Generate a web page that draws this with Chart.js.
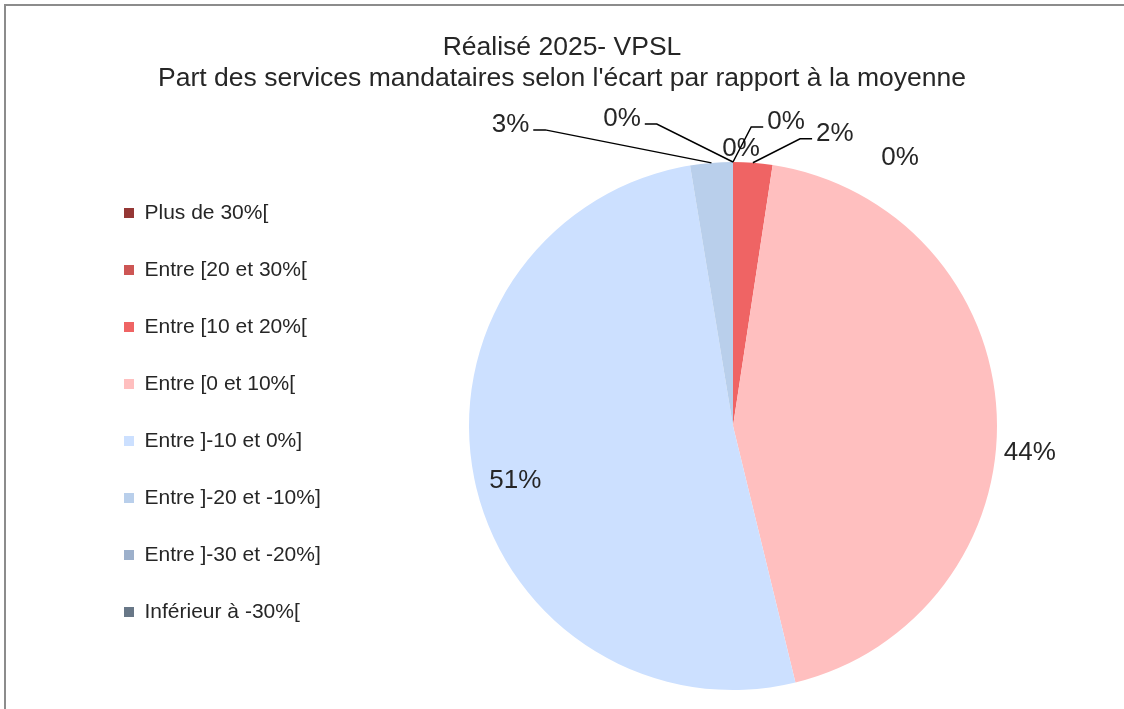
<!DOCTYPE html>
<html>
<head>
<meta charset="utf-8">
<script src="https://cdn.jsdelivr.net/npm/chart.js@4.4.1/dist/chart.umd.min.js"></script>
<style>
html, body { margin: 0; padding: 0; background: #fff; overflow: hidden; }
#wrap { position: relative; width: 1124px; height: 709px; }
#pieChart { position: absolute; left: 0; top: 0; }
#frame { position: absolute; left: 4px; top: 4px; right: 0; bottom: -10px;
         border-left: 2px solid #8c8c8c; border-top: 2px solid #8c8c8c; pointer-events: none; }
</style>
</head>
<body>
<div id="wrap">
  <canvas id="pieChart" width="1124" height="709"></canvas>
  <div id="frame"></div>
</div>
<script>
'use strict'

// data
const titleLines = ['Réalisé 2025- VPSL', "Part des services mandataires selon l'écart par rapport à la moyenne"];
const categories = ['Plus de 30%[', 'Entre [20 et 30%[', 'Entre [10 et 20%[', 'Entre [0 et 10%[',
    'Entre ]-10 et 0%]', 'Entre ]-20 et -10%]', 'Entre ]-30 et -20%]', 'Inférieur à -30%['];
const shares = [0, 0, 2.4, 43.8, 51.2, 2.6, 0, 0];
const sliceColors = ['#953735', '#cd5654', '#ef6464', '#ffbfbf', '#cce0ff', '#b9cfeb', '#9db0cb', '#687787'];

// where each percent label sits, relative to the outer point of its slice
const labelOffsets = [[8, -13], [53, -40], [82, -29], [33, 38], [41, 2], [-201, -38], [-111, -43], [167, -4]];
const withLeader = [false, true, true, false, false, true, true, false];

const FONT = '"Liberation Sans", Arial, sans-serif';
Chart.defaults.font.family = FONT;
Chart.defaults.color = '#262626';

// percent labels with leader lines, drawn after the slices
const pieLabels = {
    id: 'pieLabels',
    afterDatasetsDraw(chart) {
        const ctx = chart.ctx;
        const meta = chart.getDatasetMeta(0);
        const total = shares.reduce((a, b) => a + b, 0);
        ctx.save();
        ctx.font = '26px ' + FONT;
        ctx.textAlign = 'center';
        ctx.textBaseline = 'middle';
        meta.data.forEach((arc, i) => {
            const p = arc.getProps(['x', 'y', 'startAngle', 'endAngle', 'outerRadius'], true);
            const mid = (p.startAngle + p.endAngle) / 2;
            const ax = p.x + Math.cos(mid) * p.outerRadius;
            const ay = p.y + Math.sin(mid) * p.outerRadius;
            const tx = ax + labelOffsets[i][0];
            const ty = ay + labelOffsets[i][1];
            const text = Math.round(shares[i] / total * 100) + '%';
            if (withLeader[i]) {
                const w = ctx.measureText(text).width;
                const side = tx > ax ? -1 : 1;
                const endX = tx + side * (w / 2 + 4);
                const elbowX = endX + side * 12;
                const ly = ty + 5;
                ctx.beginPath();
                ctx.moveTo(ax, ay);
                ctx.lineTo(elbowX, ly);
                ctx.lineTo(endX, ly);
                ctx.strokeStyle = '#000';
                ctx.lineWidth = 1.5;
                ctx.stroke();
            }
            ctx.fillStyle = '#262626';
            ctx.fillText(text, tx, ty);
        });
        ctx.restore();
    }
};

const ctx = document.getElementById('pieChart').getContext('2d');
const pieChart = new Chart(ctx, {
    type: 'pie',
    data: {
        labels: categories,
        datasets: [{
            data: shares,
            backgroundColor: sliceColors,
            borderWidth: 0
        }]
    },
    options: {
        responsive: false,
        animation: false,
        events: [],
        layout: { padding: { top: 0, bottom: 19, left: 88, right: 88 } },
        scales: {
            // empty box between legend and pie, pushes the pie to the right
            spacer: {
                type: 'linear',
                axis: 'y',
                position: 'left',
                display: true,
                grid: { display: false },
                border: { display: false },
                ticks: { display: false },
                afterFit(scale) {
                    const lw = scale.chart.legend ? scale.chart.legend.width : 0;
                    scale.width = Math.max(0, 342 - lw);
                }
            }
        },
        plugins: {
            title: {
                display: true,
                text: titleLines,
                color: '#262626',
                font: { size: 26.5, weight: 'normal', lineHeight: '31px' },
                padding: { top: 32.5, bottom: 67.5 }
            },
            legend: {
                position: 'left',
                align: 'start',
                fullSize: false,
                title: { display: true, text: '', font: { size: 4.5, lineHeight: 1 }, padding: 0 },
                labels: {
                    boxWidth: 10,
                    boxHeight: 10,
                    padding: 36,
                    color: '#262626',
                    font: { size: 21 }
                },
                onClick: null
            },
            tooltip: { enabled: false }
        }
    },
    plugins: [pieLabels]
});
</script>
</body>
</html>
